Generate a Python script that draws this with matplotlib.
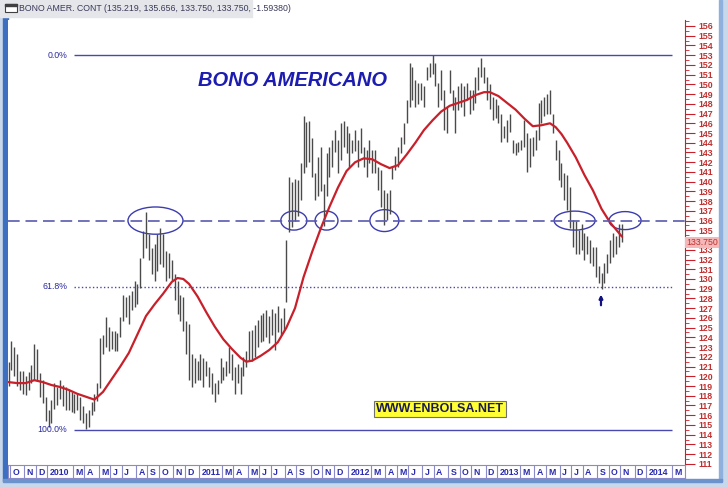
import matplotlib
matplotlib.use("Agg")
import matplotlib.pyplot as plt
from matplotlib.patches import Ellipse, Rectangle
import numpy as np
import pandas as pd

W, H = 728, 487

# ---- data (weekly bars) ----
first_bar = "2009-09-25"
highs = [
    121.5, 123.6, 123.0, 122.3, 120.5, 120.5, 120.0, 120.4, 121.2, 123.3,
    122.8, 120.3, 119.6, 117.9, 116.5, 117.6, 119.3, 118.9, 119.6, 119.1,
    118.9, 118.6, 118.4, 118.2, 118.2, 117.9, 116.9, 116.2, 116.5, 117.4,
    118.2, 119.3, 123.9, 124.2, 126.1, 125.1, 124.7, 124.7, 124.4, 126.1,
    128.4, 128.1, 128.4, 128.8, 129.8, 129.5, 132.2, 134.9, 136.9, 134.6,
    133.2, 133.6, 134.6, 135.2, 134.6, 132.9, 132.7, 131.9, 130.5, 129.8,
    128.4, 128.1, 125.7, 125.4, 122.3, 121.9, 121.6, 122.3, 121.9, 121.6,
    121.0, 120.3, 119.3, 119.6, 121.9, 121.0, 121.6, 123.0, 122.3, 121.0,
    121.3, 121.0, 122.0, 122.6, 124.7, 124.8, 125.3, 125.8, 126.3, 126.5,
    126.8, 126.2, 126.9, 126.5, 127.2, 126.0, 127.0, 134.0, 140.5, 140.0,
    140.3, 140.2, 141.9, 146.7, 146.1, 146.2, 144.5, 140.9, 142.5, 143.6,
    139.8, 142.9, 143.6, 144.3, 145.3, 144.3, 146.0, 146.2, 145.7, 145.0,
    144.3, 145.3, 144.3, 145.5, 143.6, 143.3, 144.3, 143.3, 143.3, 141.5,
    141.2, 139.1, 138.8, 139.1, 141.5, 142.6, 143.6, 144.6, 146.0, 148.4,
    152.2, 151.8, 150.5, 150.1, 150.1, 149.8, 151.8, 152.2, 153.0, 152.2,
    150.1, 151.5, 149.4, 147.7, 151.5, 149.4, 148.7, 149.8, 150.1, 149.8,
    150.1, 149.4, 149.4, 150.8, 151.8, 152.7, 151.8, 150.8, 150.0, 148.7,
    148.5, 147.9, 147.0, 145.7, 146.3, 147.0, 144.3, 144.0, 144.1, 144.3,
    146.3, 145.0, 144.5, 144.6, 145.3, 148.1, 148.4, 148.7, 149.0, 149.4,
    147.0, 144.3, 143.3, 141.9, 140.9, 140.7, 139.5, 136.1, 136.0, 135.0,
    135.7, 134.7, 134.4, 134.0, 133.3, 133.3, 131.3, 130.6, 131.6, 132.6,
    134.0, 134.7, 134.4, 135.7, 135.66,
]
lows = [
    119.0, 120.6, 120.0, 119.0, 118.6, 118.2, 118.1, 118.6, 119.3, 119.6,
    119.6, 117.9, 117.3, 115.4, 114.8, 115.2, 116.6, 117.0, 117.7, 116.9,
    116.5, 116.5, 116.3, 116.2, 116.5, 115.5, 115.2, 114.6, 114.8, 116.0,
    116.4, 117.5, 118.8, 122.3, 123.0, 122.6, 122.8, 122.6, 122.6, 124.0,
    125.7, 126.1, 125.4, 126.8, 127.1, 127.4, 129.1, 132.2, 133.2, 131.9,
    130.5, 129.8, 130.8, 131.5, 131.2, 129.8, 130.1, 129.8, 127.8, 126.4,
    125.7, 124.7, 122.3, 119.6, 118.9, 119.3, 119.6, 119.6, 118.9, 120.0,
    118.9, 118.2, 117.4, 118.2, 119.3, 119.6, 120.0, 120.3, 119.6, 118.2,
    119.3, 118.2, 120.0, 121.0, 121.6, 121.6, 122.0, 123.0, 123.5, 123.6,
    124.0, 123.4, 124.2, 122.7, 124.5, 124.2, 124.8, 127.6, 134.8, 135.3,
    136.0, 136.5, 138.1, 140.9, 141.5, 142.0, 140.5, 138.1, 138.5, 139.0,
    135.4, 138.5, 140.5, 141.5, 143.0, 140.9, 142.2, 143.6, 142.9, 141.5,
    142.9, 143.2, 141.5, 142.9, 141.5, 140.5, 141.9, 140.9, 140.9, 139.1,
    137.4, 135.5, 136.1, 136.7, 140.3, 141.2, 141.5, 142.9, 143.9, 146.0,
    147.7, 148.4, 147.7, 148.0, 148.4, 147.7, 150.5, 150.8, 151.1, 149.8,
    147.7, 148.4, 145.3, 145.0, 149.1, 147.4, 145.0, 147.4, 147.7, 146.7,
    148.4, 147.0, 147.4, 148.1, 149.4, 150.8, 150.1, 148.4, 147.5, 146.3,
    146.5, 146.0, 144.1, 144.5, 144.1, 145.1, 142.9, 142.7, 143.1, 143.3,
    143.6, 141.0, 141.5, 142.6, 143.3, 144.3, 146.0, 146.7, 147.0, 147.0,
    145.0, 142.2, 140.2, 139.5, 138.1, 137.1, 135.2, 133.3, 132.6, 132.6,
    133.0, 132.0, 132.6, 131.6, 131.3, 130.2, 129.6, 129.0, 129.6, 130.6,
    131.6, 132.3, 132.6, 133.3, 133.75,
]
# red moving average, sampled at these bar numbers
ma_weeks = [0, 3, 6, 9, 12, 15, 18, 21, 24, 27, 30, 33, 36, 39, 42, 45, 48,
            51, 54, 57, 59, 61, 63, 66, 69, 72, 75, 78, 81, 83, 85, 88, 91,
            94, 97, 100, 103, 106, 109, 112, 115, 118, 121, 124, 127, 130,
            133, 136, 139, 142, 145, 148, 151, 154, 157, 160, 163, 166, 168,
            171, 174, 177, 180, 183, 186, 189, 191, 193, 195, 198, 201, 204,
            207, 210, 212, 214]
ma_values = [119.4, 119.3, 119.3, 119.6, 119.4, 119.1, 118.9, 118.6, 118.2,
             117.9, 117.6, 118.4, 119.7, 121.0, 122.4, 124.3, 126.2, 127.4,
             128.5, 129.7, 130.1, 130.0, 129.5, 128.2, 126.6, 125.1, 123.8,
             122.8, 121.9, 121.5, 121.6, 122.1, 122.7, 123.5, 125.0, 127.0,
             130.2, 132.8, 135.2, 137.4, 139.4, 141.1, 142.0, 142.4, 142.3,
             141.8, 141.4, 141.7, 142.8, 144.0, 145.3, 146.3, 147.2, 147.8,
             148.1, 148.4, 148.9, 149.2, 149.2, 148.8, 148.1, 147.4, 146.5,
             145.7, 145.8, 146.0, 145.6, 144.9, 144.0, 142.5, 140.7, 139.1,
             137.2, 135.8, 135.1, 134.4]
fib_labels = ["0.0%", "61.8%", "100.0%"]
fib_values = [153.0, 129.2, 114.5]
resistance = 136.0
last_close = 133.750
header = "BONO AMER. CONT (135.219, 135.656, 133.750, 133.750, -1.59380)"
# circled touches of the 136 line: (bar number, width in bars, height in points)
circle_weeks = [51.3, 99.6, 111.0, 131.2, 197.6, 215.2]
circle_widths = [19.2, 9.1, 8.0, 10.1, 14.3, 11.2]
circle_heights = [2.8, 1.95, 1.95, 2.25, 1.95, 1.85]
arrow_week = 206.8

# ---- geometry helpers (pixel -> data) ----
PX_WEEK = 2.865
X0 = 8.5
PX_PRICE = 9.73


def rect(x0, y0, x1, y1):
    return [x0 / W, 1 - y1 / H, (x1 - x0) / W, (y1 - y0) / H]


def wk(px):
    return (px - X0) / PX_WEEK


ytop = 156 + 6 / PX_PRICE
ybot = 156 - 439 / PX_PRICE

blue = "#4848b0"
txtblue = "#2a2aa0"
red = "#c8202a"

fig = plt.figure(figsize=(W / 100, H / 100), dpi=100, facecolor="#c9d7ea")
plt.rcParams["font.family"] = ["Liberation Sans", "DejaVu Sans"]

# window frame
bg = fig.add_axes([0, 0, 1, 1])
bg.set_xlim(0, W)
bg.set_ylim(H, 0)
bg.axis("off")
bg.add_patch(Rectangle((0, 0), W, H, color="#c9d7ea"))
bg.add_patch(Rectangle((7, 0), 712, 479, color="white"))
bg.add_patch(Rectangle((3, 0), 4.5, 481, color="#3d6fc0"))
bg.add_patch(Rectangle((719, 0), 3, 481, color="#8fb0dc"))
bg.add_patch(Rectangle((3, 479), 719, 3, color="#6d93cc"))
# header strip
bg.add_patch(Rectangle((0, 0), 252, 17, color="#e4e6ea"))
bg.add_patch(Rectangle((5, 4), 12, 8, facecolor="white", edgecolor="#404040", lw=0.8))
bg.add_patch(Rectangle((5, 4), 12, 2, color="#404040"))
bg.text(19, 8.5, header, fontsize=6.3, color="#3a3a5a", va="center", ha="left")

# ---- main price panel ----
ax = fig.add_axes(rect(8, 20, 685, 465))
n = len(highs)
weeks = np.arange(n)
ax.set_xlim(wk(8), wk(685))
ax.set_ylim(ybot, ytop)

ax.vlines(weeks, lows, highs, color="#4a4a4a", lw=1.0)
ax.plot(ma_weeks, ma_values, color=red, lw=1.6, solid_joinstyle="round")

# fibonacci retracement lines
for lab, val in zip(fib_labels, fib_values):
    ls = ":" if lab == "61.8%" else "-"
    ax.hlines(val, wk(74), wk(672), color=blue, lw=1.0, linestyles=ls)
    ax.text(wk(67), val, lab, fontsize=6.3, color=txtblue, ha="right", va="center")

ax.axhline(resistance, color="#5a5aae", lw=1.2, ls=(0, (7, 3.5)))
for cw, wd, ht in zip(circle_weeks, circle_widths, circle_heights):
    ax.add_patch(Ellipse((cw, resistance), wd, ht, fill=False, ec="#3c3cb0", lw=1.0))

ax.annotate("", xy=(arrow_week, 128.4), xytext=(arrow_week, 127.3),
            arrowprops=dict(arrowstyle="-|>", color="#101080", lw=1.6,
                            mutation_scale=5, shrinkA=0, shrinkB=0))

ax.text(wk(293), 153 - 2.6, "BONO AMERICANO", fontsize=14.5, fontweight="bold",
        fontstyle="italic", color="#1c1cb0", ha="center", va="center")
ax.text(wk(440), 116.6, "WWW.ENBOLSA.NET", fontsize=9, fontweight="bold",
        color="#1a1a5a", ha="center", va="center",
        bbox=dict(boxstyle="square,pad=0.15", fc="#ffff33", ec="#707070", lw=0.8))

for side in ["top", "left", "bottom"]:
    ax.spines[side].set_visible(False)
ax.spines["right"].set_color(red)
ax.set_xticks([])
ax.yaxis.tick_right()
yt = np.arange(111, 157)
ax.set_yticks(yt)
ax.set_yticklabels(["" if v == 134 else str(v) for v in yt])
ax.set_yticks(np.arange(111, 156.6, 0.5), minor=True)
ax.tick_params(axis="y", which="major", length=7, color=red, labelsize=6.3,
               labelcolor="#c03030", pad=3)
ax.tick_params(axis="y", which="minor", length=3, color=red)
for t in ax.get_yticklabels():
    t.set_fontweight("bold")
ax.text(wk(702), last_close, f"{last_close:.3f}", fontsize=6.3, color="#c03030",
        ha="center", va="center", clip_on=False, zorder=10,
        bbox=dict(boxstyle="square,pad=0.15", fc="#f4b8b8", ec="none"))

# ---- date strip ----
dx = fig.add_axes(rect(8, 465, 685, 478))
dx.set_xlim(wk(8), wk(685))
dx.set_ylim(0, 1)
dx.set_xticks([])
dx.set_yticks([])
for s in dx.spines.values():
    s.set_color("#8a8ac8")
dates = pd.date_range(first_bar, periods=int(wk(685)) + 1, freq="7D")
prev = (dates[0].year, dates[0].month)  # first, partial month gets no label
for i, d in enumerate(dates):
    key = (d.year, d.month)
    if key == prev:
        continue
    prev = key
    if d.month == 2 or i > wk(678):
        continue
    lab = str(d.year) if d.month == 1 else "JFMAMJJASOND"[d.month - 1]
    dx.axvline(i - 0.5, color="#8a8ac8", lw=0.8)
    dx.text(i + 0.3, 0.45, lab, fontsize=6.3, color="#2a2ab0", fontweight="bold",
            ha="left", va="center")

fig.savefig("out.png", dpi=100, facecolor=fig.get_facecolor())
